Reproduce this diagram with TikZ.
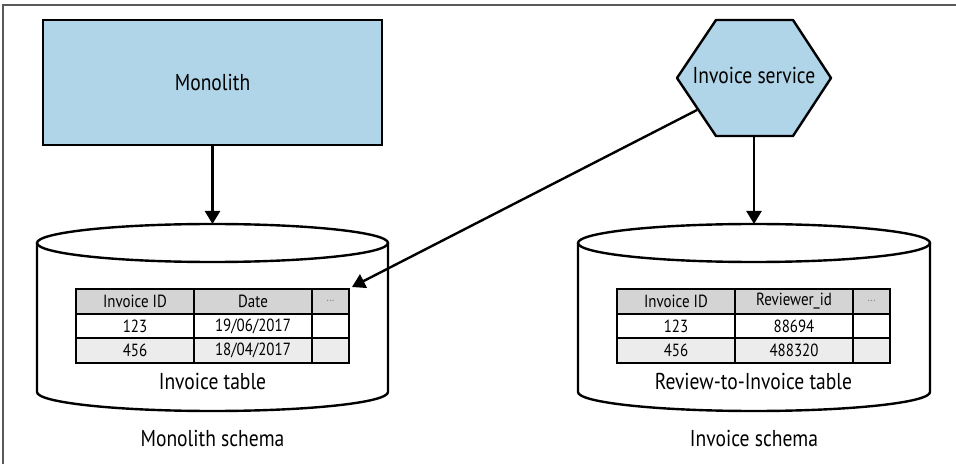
\documentclass[tikz,border=0pt]{standalone}
\usepackage{fontspec}
\setmainfont[FakeStretch=0.85]{PT Sans}
\usetikzlibrary{arrows.meta,positioning}

\definecolor{boxblue}{RGB}{176,212,232}
\definecolor{headgray}{RGB}{212,212,212}
\definecolor{rowgray}{RGB}{236,236,236}

\tikzset{
  bigtext/.style={font=\fontsize{23}{26}\selectfont},
  cell/.style={draw, line width=2.2pt, outer sep=0pt, inner sep=0pt,
    minimum height=24.67pt, font=\fontsize{17.6}{20}\selectfont},
  wide/.style={minimum width=118pt},
  narrow/.style={minimum width=37pt},
  headcell/.style={cell, fill=headgray},
  altcell/.style={cell, fill=rowgray},
  dbline/.style={line width=2.4pt},
  arr/.style={line width=2.4pt, -{Triangle[length=13pt, width=15pt]}}
}

\begin{document}
\begin{tikzpicture}[x=1pt, y=1pt]
  \useasboundingbox (0,0) rectangle (956,464);
  % frame
  \draw[gray!70!black, line width=1.5pt] (3,0) -- (3,459) -- (956,459);

  % Monolith
  \node[draw, line width=2.4pt, fill=boxblue, minimum width=339pt, minimum height=125pt,
        bigtext] (mono) at (212.5,381.5) {Monolith};

  % Invoice service hexagon
  \draw[line width=2.4pt, fill=boxblue, line join=round]
    (677,386) -- (716,444) -- (793,444) -- (831,386) -- (793,328) -- (716,328) -- cycle;
  \node[bigtext] (svc) at (754,389) {Invoice service};
  \coordinate (svcB) at (754,328);
  \coordinate (svcL) at (697,354);

  % Monolith schema (left database)
  \draw[dbline] (37,221) -- (37,72) arc[start angle=180, end angle=360, x radius=175.5, y radius=19] -- (388,221);
  \draw[dbline] (212.5,221) ellipse[x radius=175.5, y radius=19];
  \coordinate (dbA) at (212.5,240);

  % Invoice schema (right database)
  \draw[dbline] (578,221) -- (578,72) arc[start angle=180, end angle=360, x radius=176, y radius=19] -- (930,221);
  \draw[dbline] (754,221) ellipse[x radius=176, y radius=19];
  \coordinate (dbB) at (754,240);

  % Invoice table
  \node[headcell, wide] (la11) at (135,162.67) {Invoice ID};
  \node[headcell, wide, right=0pt of la11] (la12) {Date};
  \node[headcell, narrow, right=0pt of la12] (la13) {\textcolor{gray}{\fontsize{12}{12}\selectfont...}};
  \node[cell, wide, below=0pt of la11] (la21) {123};
  \node[cell, wide, right=0pt of la21] (la22) {19/06/2017};
  \node[cell, narrow, right=0pt of la22] (la23) {};
  \node[altcell, wide, below=0pt of la21] (la31) {456};
  \node[altcell, wide, right=0pt of la31] (la32) {18/04/2017};
  \node[altcell, narrow, right=0pt of la32] (la33) {};
  \node[bigtext] (tblA) at (212.5,83) {Invoice table};

  % Review-to-Invoice table
  \node[headcell, wide] (lb11) at (676,162.67) {Invoice ID};
  \node[headcell, wide, right=0pt of lb11] (lb12) {Reviewer\_id};
  \node[headcell, narrow, right=0pt of lb12] (lb13) {\textcolor{gray}{\fontsize{12}{12}\selectfont...}};
  \node[cell, wide, below=0pt of lb11] (lb21) {123};
  \node[cell, wide, right=0pt of lb21] (lb22) {88694};
  \node[cell, narrow, right=0pt of lb22] (lb23) {};
  \node[altcell, wide, below=0pt of lb21] (lb31) {456};
  \node[altcell, wide, right=0pt of lb31] (lb32) {488320};
  \node[altcell, narrow, right=0pt of lb32] (lb33) {};
  \node[bigtext] (tblB) at (753.5,83) {Review-to-Invoice table};

  % schema names
  \node[bigtext] (schemaA) at (212.5,26) {Monolith schema};
  \node[bigtext] (schemaB) at (754,26) {Invoice schema};

  % connectors
  \coordinate (hit) at ([shift={(3,2)}]la13.north east);
  \draw[arr] (mono) -- (dbA);
  \draw[arr] (svcB) -- (dbB);
  \draw[arr] (svcL) -- (hit);
\end{tikzpicture}
\end{document}
